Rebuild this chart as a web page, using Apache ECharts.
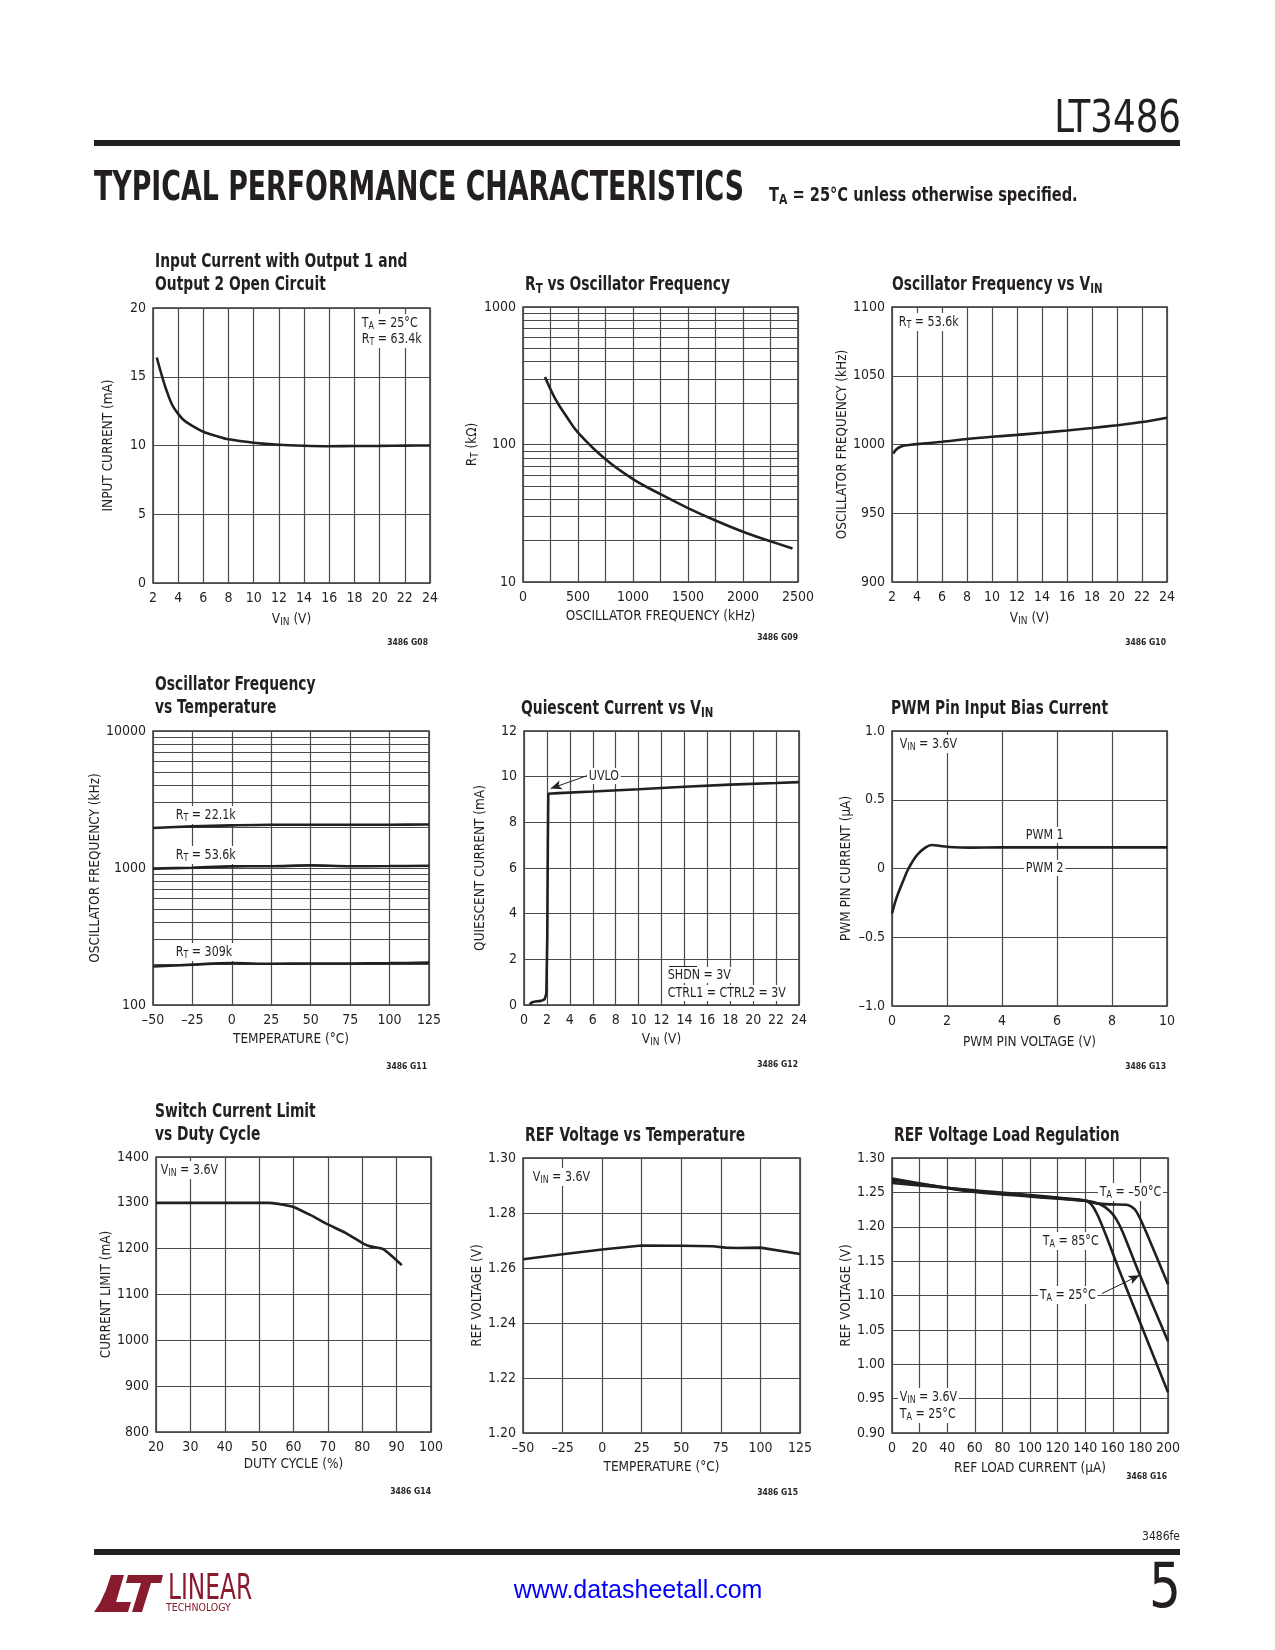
<!DOCTYPE html>
<html>
<head>
<meta charset="utf-8">
<title>LT3486 Typical Performance Characteristics</title>
<script src="https://cdn.jsdelivr.net/npm/echarts@6/dist/echarts.min.js"></script>
<style>
html,body{margin:0;padding:0;background:#ffffff;}
#page{width:1275px;height:1650px;}
</style>
</head>
<body>
<div id="page"></div>
<script>
// ================= DATA =================
// G08: Input current vs VIN
const g08Vin = [2.3, 2.6, 3, 3.5, 4, 4.5, 5, 6, 7, 8, 10, 12, 14, 16, 18, 20, 22, 24];
const g08Current = [16.4, 15.4, 14.2, 13.0, 12.3, 11.8, 11.5, 11.0, 10.7, 10.45, 10.2, 10.05, 9.98, 9.95, 9.96, 9.97, 9.99, 10.0];
// G09: RT vs oscillator frequency
const g09Freq = [200, 300, 400, 500, 750, 1000, 1250, 1500, 1750, 2000, 2250, 2450];
const g09Rt = [310, 210, 158, 122, 78, 56, 43.5, 34.5, 28, 23.2, 19.8, 17.5];
const g09MinorGrid = [20, 30, 40, 50, 60, 70, 80, 90, 200, 300, 400, 500, 600, 700, 800, 900];
// G10: Oscillator frequency vs VIN
const g10Vin = [2.1, 2.3, 2.6, 3, 3.5, 4, 6, 8, 10, 12, 14, 16, 18, 20, 22, 24];
const g10Freq = [993.5, 996, 998, 999.2, 999.8, 1000.3, 1002, 1004, 1005.6, 1007, 1008.5, 1010.2, 1012, 1014, 1016.3, 1019.5];
// G11: Oscillator frequency vs temperature
const g11Temp = [-50, -25, 0, 25, 50, 75, 100, 125];
const g11Rt22k = [1957, 2012, 2047, 2069, 2069, 2069, 2069, 2080];
const g11Rt53k = [989, 1005, 1028, 1030, 1045, 1030, 1033, 1039];
const g11Rt309k = [191, 197, 202, 200, 201, 201, 202, 204];
const g11MinorGrid = [200, 300, 400, 500, 600, 700, 800, 900, 2000, 3000, 4000, 5000, 6000, 7000, 8000, 9000];
// G12: Quiescent current vs VIN
const g12Vin = [0.5, 0.7, 1.0, 1.5, 1.8, 1.95, 2.03, 2.08, 2.12, 3, 6, 10, 14, 18, 22, 24];
const g12Iq = [0.02, 0.12, 0.15, 0.18, 0.25, 0.5, 3, 7, 9.25, 9.28, 9.35, 9.45, 9.56, 9.65, 9.72, 9.76];
const g12UvloArrow = [[5.6, 10.06], [2.33, 9.48]];
// G13: PWM pin input bias current
const g13Volt = [0, 0.18, 0.42, 0.6, 0.91, 1.21, 1.45, 1.76, 2.24, 2.85, 3.94, 6, 8, 10];
const g13Current = [-0.327, -0.205, -0.084, 0, 0.098, 0.152, 0.171, 0.164, 0.154, 0.152, 0.154, 0.154, 0.154, 0.154];
// G14: Switch current limit vs duty cycle
const g14Duty = [20, 30, 40, 50, 53, 57, 60, 65, 70, 75.5, 80.3, 82.3, 86.1, 91.5];
const g14Limit = [1300, 1300, 1300, 1300, 1300, 1296, 1291, 1273, 1253, 1233, 1211, 1205, 1199, 1164];
// G15: REF voltage vs temperature
const g15Temp = [-50, -25, 0, 25, 50, 70, 78, 85, 100, 125];
const g15Vref = [1.2632, 1.2650, 1.2667, 1.2682, 1.2681, 1.2679, 1.2674, 1.2673, 1.2674, 1.2651];
// G16: REF voltage load regulation
const g16LoadM50 = [0, 60, 138, 148, 158, 170, 175.8, 179.4, 184.3, 200];
const g16VrefM50 = [1.2636, 1.253, 1.2388, 1.234, 1.2325, 1.232, 1.2257, 1.2135, 1.1916, 1.1162];
const g16Load25 = [0, 60, 140.7, 150.4, 157.6, 162.5, 167.3, 179.4, 200];
const g16Vref25 = [1.2675, 1.252, 1.2378, 1.233, 1.2233, 1.2111, 1.1916, 1.1308, 1.0336];
const g16Load85 = [0, 60, 139.5, 144.3, 149.2, 155.2, 164.9, 200];
const g16Vref85 = [1.27, 1.2505, 1.2378, 1.233, 1.216, 1.1868, 1.1357, 0.9591];
const g16Arrow25 = [[152.1, 1.1028], [179.4, 1.1294]];

// ================= STYLE =================
const FONT = '"Liberation Sans Narrow","DejaVu Sans Condensed","Arial Narrow",sans-serif';
const INK = '#231f20';
const GRID_C = '#4a4a4a';
const CURVE_W = 2.6;
const MAROON = '#8a1a2e';

function richSet(size, bold) {
  const w = bold ? 'bold' : 'normal';
  const s = Math.round(size * 0.72);
  return {
    n: {fontFamily: FONT, fontSize: size, fontWeight: w, color: INK, fill: INK},
    s: {fontFamily: FONT, fontSize: s, fontWeight: w, color: INK, fill: INK, padding: [Math.round(size * 0.42), 0, 0, 0]}
  };
}
const R13 = richSet(13.5, false);
const R14 = richSet(14, false);
const R19B = richSet(19, true);
const sub = (a, b, c) => `{n|${a}}{s|${b}}{n|${c}}`;
const plain = (t) => `{n|${t}}`;
const dash = (v) => (v < 0 ? '\u2013' + Math.abs(v) : String(v));
const num = (v) => String(v);

// grid rects [left, top, width, height]
const rects = [
  [153, 308, 277, 275], [523, 307, 275, 275], [892, 307, 275, 275],
  [153, 731, 276, 274], [524, 731, 275, 274], [892, 731, 275, 275],
  [156, 1157, 275, 275], [523, 1158, 277, 275], [892, 1158, 276, 275]
];

function axis(gi, o, isY) {
  const a = {
    gridIndex: gi,
    type: o.type || 'value',
    min: o.min, max: o.max,
    axisLine: {show: false}, axisTick: {show: false},
    splitLine: {show: true, lineStyle: {color: GRID_C, width: 1.2}},
    axisLabel: {color: INK, fontFamily: FONT, fontSize: 14, margin: isY ? 7 : 8, formatter: o.fmt || num},
    name: o.name, nameLocation: 'middle', nameGap: o.gap,
    nameTextStyle: {color: INK, fontFamily: FONT, fontSize: 13.5, rich: R13}
  };
  if (o.interval !== undefined) a.interval = o.interval;
  if (o.type === 'log') a.logBase = 10;
  return a;
}

const xAxes = [
  axis(0, {min: 2, max: 24, interval: 2, name: sub('V', 'IN', ' (V)'), gap: 28}),
  axis(1, {min: 0, max: 2500, interval: 250, name: plain('OSCILLATOR FREQUENCY (kHz)'), gap: 27,
    fmt: v => (v % 500 === 0 ? String(v) : '')}),
  axis(2, {min: 2, max: 24, interval: 2, name: sub('V', 'IN', ' (V)'), gap: 28}),
  axis(3, {min: -50, max: 125, interval: 25, name: plain('TEMPERATURE (°C)'), gap: 27, fmt: dash}),
  axis(4, {min: 0, max: 24, interval: 2, name: sub('V', 'IN', ' (V)'), gap: 26}),
  axis(5, {min: 0, max: 10, interval: 2, name: plain('PWM PIN VOLTAGE (V)'), gap: 29}),
  axis(6, {min: 20, max: 100, interval: 10, name: plain('DUTY CYCLE (%)'), gap: 25}),
  axis(7, {min: -50, max: 125, interval: 25, name: plain('TEMPERATURE (°C)'), gap: 27, fmt: dash}),
  axis(8, {min: 0, max: 200, interval: 20, name: plain('REF LOAD CURRENT (µA)'), gap: 28})
];
const yAxes = [
  axis(0, {min: 0, max: 20, interval: 5, name: plain('INPUT CURRENT (mA)'), gap: 38}, true),
  axis(1, {type: 'log', min: 10, max: 1000, name: sub('R', 'T', ' (kΩ)'), gap: 38}, true),
  axis(2, {min: 900, max: 1100, interval: 50, name: plain('OSCILLATOR FREQUENCY (kHz)'), gap: 38}, true),
  axis(3, {type: 'log', min: 100, max: 10000, name: plain('OSCILLATOR FREQUENCY (kHz)'), gap: 38}, true),
  axis(4, {min: 0, max: 12, interval: 2, name: plain('QUIESCENT CURRENT (mA)'), gap: 37}, true),
  axis(5, {min: -1, max: 1, interval: 0.5, name: plain('PWM PIN CURRENT (µA)'), gap: 39,
    fmt: v => (v === 0 ? '0' : (v < 0 ? '\u2013' : '') + Math.abs(v).toFixed(1))}, true),
  axis(6, {min: 800, max: 1400, interval: 100, name: plain('CURRENT LIMIT (mA)'), gap: 41}, true),
  axis(7, {min: 1.2, max: 1.3, interval: 0.02, name: plain('REF VOLTAGE (V)'), gap: 35, fmt: v => v.toFixed(2)}, true),
  axis(8, {min: 0.9, max: 1.3, interval: 0.05, name: plain('REF VOLTAGE (V)'), gap: 39, fmt: v => v.toFixed(2)}, true)
];

function curve(gi, xs, ys, extra) {
  return Object.assign({
    type: 'line', xAxisIndex: gi, yAxisIndex: gi,
    data: xs.map((x, i) => [x, ys[i]]),
    symbol: 'none', smooth: 0.3, silent: true, z: 3,
    lineStyle: {color: INK, width: CURVE_W}
  }, extra || {});
}
function minorGrid(values, axisKey) {
  return {
    silent: true, symbol: 'none', z: 1, animation: false,
    label: {show: false},
    lineStyle: {color: GRID_C, width: 1.2, type: 'solid'},
    emphasis: {disabled: true},
    data: values.map(v => ({[axisKey]: v}))
  };
}
function arrowLine(pts) {
  return {
    silent: true, animation: false, z: 4,
    label: {show: false},
    lineStyle: {color: INK, width: 1, type: 'solid'},
    emphasis: {disabled: true},
    data: [[{coord: pts[0], symbol: 'none'}, {coord: pts[1], symbol: 'arrow', symbolSize: [7, 11]}]]
  };
}

const series = [
  curve(0, g08Vin, g08Current),
  curve(1, g09Freq, g09Rt, {smooth: 0.4, markLine: minorGrid(g09MinorGrid, 'yAxis')}),
  curve(2, g10Vin, g10Freq),
  curve(3, g11Temp, g11Rt22k, {markLine: minorGrid(g11MinorGrid, 'yAxis')}),
  curve(3, g11Temp, g11Rt53k),
  curve(3, g11Temp, g11Rt309k),
  curve(4, g12Vin, g12Iq, {smooth: false, markLine: arrowLine(g12UvloArrow)}),
  curve(5, g13Volt, g13Current, {smooth: 0.4}),
  curve(6, g14Duty, g14Limit, {smooth: 0.2}),
  curve(7, g15Temp, g15Vref, {smooth: false}),
  curve(8, g16LoadM50, g16VrefM50, {smooth: 0.25}),
  curve(8, g16Load25, g16Vref25, {smooth: 0.25, markLine: arrowLine(g16Arrow25)}),
  curve(8, g16Load85, g16Vref85, {smooth: 0.25})
];

// ================= TEXT / PAGE GRAPHICS =================
function txt(x, y, text, o) {
  o = o || {};
  return {
    type: 'text', x: x, y: y, z: o.z || 50, silent: true,
    scaleX: o.scaleX || 1,
    style: Object.assign({
      text: text, rich: o.rich,
      fontFamily: o.family || FONT, fontSize: o.size || 14, fontWeight: o.weight || 'normal',
      fill: o.fill || INK,
      align: o.align || 'left', verticalAlign: o.valign || 'middle'
    }, o.bg ? {backgroundColor: '#ffffff', padding: [1, 2, 1, 2]} : {})
  };
}
const note = (x, y, t) => txt(x, y, t, {rich: R14, bg: true, z: 60, scaleX: 0.88});
const title = (x, y, t) => txt(x, y, t, {rich: R19B, size: 19, weight: 'bold', scaleX: 0.81});
const code = (x, y, t) => txt(x, y, t, {size: 8.5, weight: 'bold', align: 'right'});

const graphics = [
  // header
  txt(1181, 121, 'LT3486', {size: 44, align: 'right', scaleX: 0.9}),
  {type: 'rect', silent: true, shape: {x: 94, y: 140, width: 1086, height: 6}, style: {fill: INK}},
  txt(94, 190, 'TYPICAL PERFORMANCE CHARACTERISTICS', {size: 40, weight: 'bold', scaleX: 0.745}),
  txt(769, 196, '{n|T}{s|A}{n| = 25°C unless otherwise specified.}', {rich: richSet(19, true), size: 19, weight: 'bold', scaleX: 0.855}),
  // chart titles
  title(155, 262, plain('Input Current with Output 1 and')),
  title(155, 285, plain('Output 2 Open Circuit')),
  title(525, 285, sub('R', 'T', ' vs Oscillator Frequency')),
  title(892, 285, sub('Oscillator Frequency vs V', 'IN', '')),
  title(155, 685, plain('Oscillator Frequency')),
  title(155, 708, plain('vs Temperature')),
  title(521, 709, sub('Quiescent Current vs V', 'IN', '')),
  title(891, 709, plain('PWM Pin Input Bias Current')),
  title(155, 1112, plain('Switch Current Limit')),
  title(155, 1135, plain('vs Duty Cycle')),
  title(525, 1136, plain('REF Voltage vs Temperature')),
  title(894, 1136, plain('REF Voltage Load Regulation')),
  // annotations
  note(360, 323, sub('T', 'A', ' = 25°C')),
  note(360, 339, sub('R', 'T', ' = 63.4k')),
  note(897, 322, sub('R', 'T', ' = 53.6k')),
  note(174, 815, sub('R', 'T', ' = 22.1k')),
  note(174, 855, sub('R', 'T', ' = 53.6k')),
  note(174, 952, sub('R', 'T', ' = 309k')),
  note(587, 776, plain('UVLO')),
  note(666, 975, plain('SHDN = 3V')),
  note(666, 993, plain('CTRL1 = CTRL2 = 3V')),
  note(898, 744, sub('V', 'IN', ' = 3.6V')),
  note(1024, 835, plain('PWM 1')),
  note(1024, 868, plain('PWM 2')),
  note(159, 1170, sub('V', 'IN', ' = 3.6V')),
  note(531, 1177, sub('V', 'IN', ' = 3.6V')),
  note(1098, 1192, sub('T', 'A', ' = \u201350°C')),
  note(1041, 1241, sub('T', 'A', ' = 85°C')),
  note(1038, 1295, sub('T', 'A', ' = 25°C')),
  note(898, 1397, sub('V', 'IN', ' = 3.6V')),
  note(898, 1414, sub('T', 'A', ' = 25°C')),
  // overline for SHDN
  {type: 'line', silent: true, z: 70, shape: {x1: 669, y1: 966.5, x2: 697, y2: 966.5}, style: {stroke: INK, lineWidth: 1}},
  // figure codes
  code(428, 643, '3486 G08'),
  code(798, 638, '3486 G09'),
  code(1166, 643, '3486 G10'),
  code(427, 1067, '3486 G11'),
  code(798, 1065, '3486 G12'),
  code(1166, 1067, '3486 G13'),
  code(431, 1492, '3486 G14'),
  code(798, 1493, '3486 G15'),
  code(1167, 1477, '3468 G16'),
  // footer
  txt(1180, 1537, '3486fe', {size: 12, align: 'right'}),
  {type: 'rect', silent: true, shape: {x: 94, y: 1549, width: 1086, height: 6}, style: {fill: INK}},
  txt(638, 1591, 'www.datasheetall.com', {size: 25, family: '"Liberation Sans",Arial,sans-serif', fill: '#0000ff', align: 'center'}),
  txt(1181, 1591, '5', {size: 62, align: 'right', scaleX: 0.9}),
  // logo mark
  {type: 'polygon', silent: true, shape: {points: [[111, 1575], [124, 1575], [116, 1602], [131, 1602], [128, 1612], [94, 1612], [100, 1603], [106, 1590]]}, style: {fill: MAROON}},
  {type: 'polygon', silent: true, shape: {points: [[128, 1575], [163, 1575], [161, 1583], [151, 1583], [142, 1612], [132, 1612], [141, 1583], [126, 1583]]}, style: {fill: MAROON}},
  txt(168, 1590, 'LINEAR', {size: 36, fill: MAROON, scaleX: 0.72}),
  txt(166, 1608, 'TECHNOLOGY', {size: 10.5, fill: MAROON})
];

const option = {
  animation: false,
  backgroundColor: '#ffffff',
  grid: rects.map(r => ({left: r[0], top: r[1], width: r[2], height: r[3], show: true, borderColor: '#333333', borderWidth: 1.5, containLabel: false})),
  xAxis: xAxes,
  yAxis: yAxes,
  series: series,
  graphic: graphics
};

const chart = echarts.init(document.getElementById('page'), null, {renderer: 'canvas'});
chart.setOption(option);
</script>
</body>
</html>
